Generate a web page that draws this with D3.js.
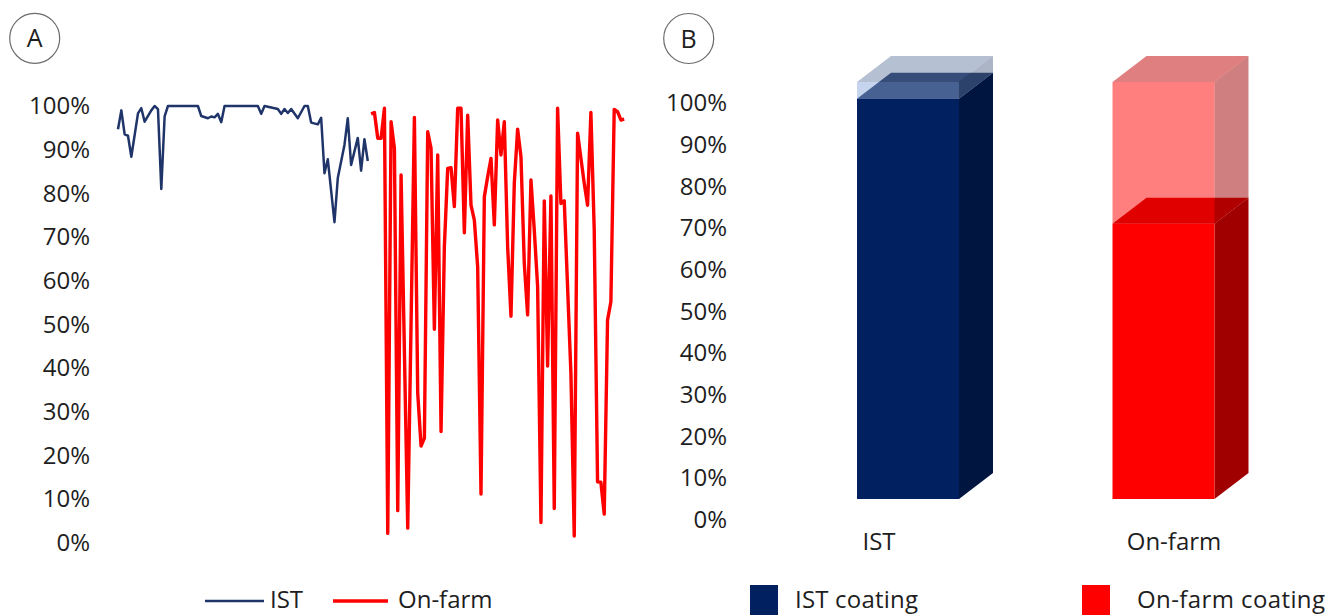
<!DOCTYPE html>
<html>
<head>
<meta charset="utf-8">
<script src="https://cdn.jsdelivr.net/npm/d3@7"></script>
<style>
  html, body { margin: 0; padding: 0; background: #fff; }
  svg { display: block; }
  text { font-family: "Open Sans", "Noto Sans", sans-serif; fill: #1e1e1e; }
</style>
</head>
<body>
<svg id="chart" width="1329" height="615"></svg>
<script>
// Panel A: coating coverage per sample
const istSample = [0,1,2,3,4,6,7,8,10,11,12,13,14,15,24,25,27,28,29,30,31,32,42,43,44,48,49,50,51,52,54,56,57,58,60,61,62,63,65,66,68,69,70,72,73,74,75];
const istCoverage = [94.7,99,93.5,93.2,88.4,98.3,99.5,96.4,99,100,99.3,81,97.6,100,100,97.7,97.2,97.6,97.4,98.2,96.3,100,100,98.2,100,99.3,98.2,99.3,98.4,99.3,97.2,100,100,96.2,95.8,97.3,84.6,87.8,73.4,83.5,91.1,97.2,86.5,92.7,85.2,92.4,87.4];

const onFarmSample = [76,77,78,79,80,81,82,83,84,85,87,89,90,91,92,93,94,95,96,97,98,99,100,101,102,103,104,105,106,107,108,109,110,111,112,113,114,115,116,117,118,119,120,121,122,123,124,125,126,127,128,129,130,131,132,133,134,136,137,138,140,141,142,143,144,145,146,147,148,149,150,151,152];
const onFarmCoverage = [98.2,98.5,92.6,92.6,99.5,2.2,96.4,90.3,7.4,84.2,3.4,97.4,34.3,22.2,24,94.1,90.3,48.9,88.8,25.5,67.8,85.7,85.9,77,99.5,99.5,71,97.9,77.3,73.9,63.2,11.2,79.2,83.8,88,72.8,96.8,88.8,96.4,67.8,51.9,82.3,94.7,88.4,64,52.2,83.1,71.6,58.7,4.7,78.3,40.5,79.4,7.9,99.5,77.7,78.3,38.8,1.6,93.8,82.3,77.3,98.5,71.6,14,13.9,6.6,51,55.2,99.2,98.7,96.8,97];

const percentTicks = [0,10,20,30,40,50,60,70,80,90,100];

// Panel B: mean coverage, split into coated and uncoated share
const barCategories = ["IST", "On-farm"];
const coatedShare = [96, 66];
const uncoatedShare = [4, 34];
const legendLabelsA = ["IST", "On-farm"];
const legendLabelsB = ["IST coating", "On-farm coating"];

const svg = d3.select("#chart");
const fmtPct = d => d + "%";

// ---------- Panel A ----------
const xA = d3.scaleLinear().domain([0, 152]).range([118, 624.2]);
const yA = d3.scaleLinear().domain([0, 100]).range([543, 106]);

const gA = svg.append("g");

const axisA = d3.axisLeft(yA).tickValues(percentTicks).tickFormat(fmtPct).tickSize(0).tickPadding(0);
const axA = gA.append("g").attr("transform", "translate(90,0)").call(axisA);
axA.select(".domain").remove();
axA.selectAll("text").attr("font-size", 24).attr("fill", "#1e1e1e")
   .style("font-family", '"Open Sans", sans-serif');

const lineA = d3.line().x(d => xA(d[0])).y(d => yA(d[1]));

gA.append("path")
  .datum(d3.zip(istSample, istCoverage))
  .attr("d", lineA)
  .attr("fill", "none").attr("stroke", "#1f3468").attr("stroke-width", 2.5)
  .attr("stroke-linejoin", "round");

gA.append("path")
  .datum(d3.zip(onFarmSample, onFarmCoverage))
  .attr("d", lineA)
  .attr("fill", "none").attr("stroke", "#ff0000").attr("stroke-width", 3.4)
  .attr("stroke-linejoin", "round");

// Panel labels
function panelTag(cx, cy, letter) {
  svg.append("circle").attr("cx", cx).attr("cy", cy).attr("r", 25)
     .attr("fill", "none").attr("stroke", "#6b6b6b").attr("stroke-width", 1.2);
  svg.append("text").attr("x", cx).attr("y", cy).attr("dy", "0.36em")
     .attr("text-anchor", "middle").attr("font-size", 25).text(letter);
}
panelTag(34.7, 38.3, "A");
panelTag(688.7, 38.5, "B");

// Legend A
const legendY = 599.5;
const legA = svg.append("g");
const legAItems = [
  { x1: 205, x2: 264, tx: 270, color: "#1f3468", w: 2.5 },
  { x1: 333, x2: 388, tx: 398, color: "#ff0000", w: 3.4 }
];
legAItems.forEach((it, i) => {
  legA.append("line").attr("x1", it.x1).attr("x2", it.x2).attr("y1", 601).attr("y2", 601)
      .attr("stroke", it.color).attr("stroke-width", it.w);
  legA.append("text").attr("x", it.tx).attr("y", legendY).attr("dy", "0.36em")
      .attr("font-size", 24).text(legendLabelsA[i]);
});

// ---------- Panel B (3D stacked columns) ----------
const yB = d3.scaleLinear().domain([0, 100]).range([520, 103]);
const axisB = d3.axisLeft(yB).tickValues(percentTicks).tickFormat(fmtPct).tickSize(0).tickPadding(0);
const axB = svg.append("g").attr("transform", "translate(727,0)").call(axisB);
axB.select(".domain").remove();
axB.selectAll("text").attr("font-size", 24).attr("fill", "#1e1e1e")
   .style("font-family", '"Open Sans", sans-serif');

const xB = d3.scalePoint().domain(barCategories).range([908, 1163.5]);
const xLabelB = d3.scalePoint().domain(barCategories).range([879, 1174]);
const barW = 102;
const depthX = 34, depthY = -26, lift = 21;
const Y = v => yB(v) - lift;

const palette = {
  "IST": {
    coated:   { front: "#002060", side: "#001540", top: "#00184a", opacity: 1 },
    uncoated: { front: "#8faadc", side: "#5a6b8c", top: "#6c81a8", opacity: 0.5 }
  },
  "On-farm": {
    coated:   { front: "#ff0000", side: "#a00000", top: "#c10000", opacity: 1 },
    uncoated: { front: "#ff0000", side: "#a00000", top: "#c10000", opacity: 0.5 }
  }
};

const gB = svg.append("g");

function drawBox(cat, v0, v1, col) {
  const xl = xB(cat) - barW / 2, xr = xB(cat) + barW / 2;
  const yt = Y(v1), yb = Y(v0);
  const g = gB.append("g");
  // right side face
  g.append("polygon")
    .attr("points", [[xr, yt], [xr + depthX, yt + depthY], [xr + depthX, yb + depthY], [xr, yb]].join(" "))
    .attr("fill", col.side).attr("fill-opacity", col.opacity);
  // top face
  g.append("polygon")
    .attr("points", [[xl, yt], [xl + depthX, yt + depthY], [xr + depthX, yt + depthY], [xr, yt]].join(" "))
    .attr("fill", col.top).attr("fill-opacity", col.opacity);
  // front face
  g.append("rect").attr("x", xl).attr("y", yt).attr("width", barW).attr("height", yb - yt)
    .attr("fill", col.front).attr("fill-opacity", col.opacity);
}

barCategories.forEach((cat, i) => {
  const c = coatedShare[i], u = uncoatedShare[i];
  drawBox(cat, 0, c, palette[cat].coated);
  drawBox(cat, c, c + u, palette[cat].uncoated);
});

// category labels
barCategories.forEach(cat => {
  svg.append("text").attr("x", xLabelB(cat)).attr("y", 541).attr("dy", "0.36em")
     .attr("text-anchor", "middle").attr("font-size", 24).text(cat);
});

// Legend B
const legB = svg.append("g");
const legBItems = [
  { sx: 750, tx: 795, color: "#002060" },
  { sx: 1082, tx: 1137, color: "#ff0000" }
];
legBItems.forEach((it, i) => {
  legB.append("rect").attr("x", it.sx).attr("y", 585).attr("width", 28).attr("height", 30)
      .attr("fill", it.color);
  legB.append("text").attr("x", it.tx).attr("y", legendY).attr("dy", "0.36em")
      .attr("font-size", 24).attr("letter-spacing", i === 1 ? 0.4 : 0.2).text(legendLabelsB[i]);
});
</script>
</body>
</html>
